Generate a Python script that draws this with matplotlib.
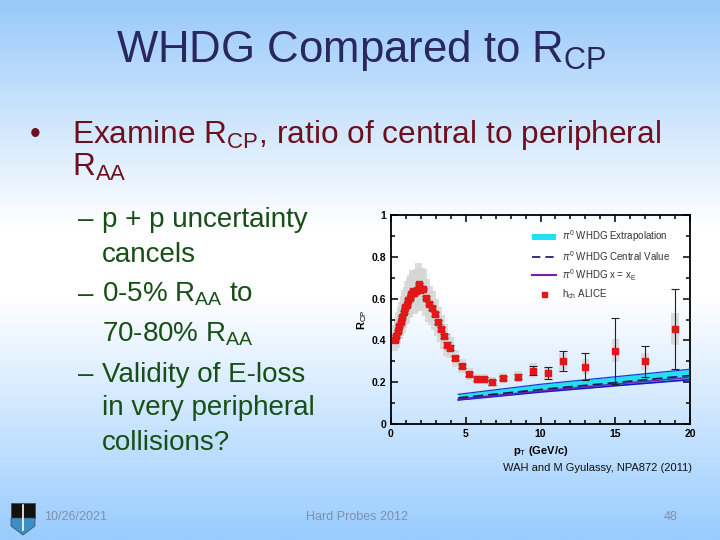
import numpy as np
import matplotlib
matplotlib.use('Agg')
import matplotlib.pyplot as plt
from matplotlib.patches import Rectangle, Polygon, Patch
from matplotlib.lines import Line2D
from matplotlib.colors import LinearSegmentedColormap

plt.rcParams['font.family'] = ['Liberation Sans', 'DejaVu Sans']
plt.rcParams['mathtext.fontset'] = 'custom'
plt.rcParams['mathtext.rm'] = 'Liberation Sans'
plt.rcParams['mathtext.it'] = 'Liberation Sans:italic'
plt.rcParams['mathtext.bf'] = 'Liberation Sans:bold'

# Datos ALICE h_ch R_CP
pt = [0.25, 0.35, 0.45, 0.55, 0.65, 0.75, 0.85, 0.95, 1.05, 1.15, 1.25, 1.35,
      1.45, 1.55, 1.65, 1.75, 1.85, 1.95, 2.05, 2.15, 2.35, 2.55, 2.75, 2.95,
      3.15, 3.35, 3.55, 3.75, 3.95, 4.3, 4.75, 5.25, 5.75, 6.25, 6.75, 7.5,
      8.5, 9.5, 10.5, 11.5, 13.0, 15.0, 17.0, 19.0]
rcp = [0.40, 0.42, 0.445, 0.47, 0.49, 0.51, 0.535, 0.56, 0.57, 0.595, 0.605, 0.62,
       0.635, 0.625, 0.635, 0.64, 0.67, 0.64, 0.645, 0.645, 0.605, 0.575, 0.555, 0.525,
       0.49, 0.455, 0.42, 0.38, 0.365, 0.315, 0.278, 0.24, 0.215, 0.215, 0.20, 0.22,
       0.227, 0.255, 0.245, 0.30, 0.274, 0.35, 0.30, 0.455]
stat = [0.005, 0.005, 0.005, 0.005, 0.005, 0.005, 0.005, 0.005, 0.005, 0.005, 0.005, 0.005,
        0.005, 0.005, 0.005, 0.005, 0.006, 0.006, 0.006, 0.006, 0.008, 0.008, 0.008, 0.009,
        0.01, 0.01, 0.01, 0.01, 0.012, 0.01, 0.01, 0.01, 0.01, 0.01, 0.012, 0.01,
        0.013, 0.022, 0.03, 0.047, 0.065, 0.157, 0.075, 0.19]
sys = [0.05, 0.055, 0.06, 0.065, 0.07, 0.075, 0.078, 0.08, 0.085, 0.09, 0.092, 0.095,
       0.1, 0.1, 0.1, 0.1, 0.1, 0.1, 0.1, 0.095, 0.09, 0.085, 0.08, 0.075,
       0.07, 0.065, 0.06, 0.055, 0.05, 0.04, 0.035, 0.03, 0.025, 0.025, 0.025, 0.025,
       0.027, 0.035, 0.03, 0.04, 0.035, 0.055, 0.04, 0.075]

# Banda teorica WHDG pi0
pt_th = [4.5, 10.0, 15.0, 20.0]
band_lo = [0.115, 0.153, 0.183, 0.212]
band_hi = [0.142, 0.190, 0.226, 0.262]
central = [0.125, 0.165, 0.198, 0.232]
x_eq_xe = [0.119, 0.158, 0.191, 0.223]

fig = plt.figure(figsize=(7.2, 5.4), dpi=100)

# Fondo degradado de la diapositiva
bg = fig.add_axes([0, 0, 1, 1], zorder=-10)
cmap = LinearSegmentedColormap.from_list('slide', [
    (0.0, (0.60, 0.79, 0.98)),
    (0.42, (1.0, 1.0, 1.0)),
    (0.55, (1.0, 1.0, 1.0)),
    (1.0, (0.60, 0.80, 1.0))])
bg.imshow(np.linspace(0, 1, 256).reshape(-1, 1), aspect='auto', cmap=cmap,
          extent=[0, 1, 0, 1], origin='upper')
bg.set_xlim(0, 1)
bg.set_ylim(0, 1)
bg.axis('off')

W, H = 720.0, 540.0

def fx(px):
    return px / W

def fy(py):
    return 1 - py / H

# Titulo
fig.text(fx(361), fy(62), r'WHDG Compared to R$_{\rm CP}$', fontsize=31.5,
         color='#28285e', ha='center', va='baseline')

# Texto de viñetas
red = '#6e0f1e'
green = '#174f17'
fig.text(fx(30), fy(143), u'\u2022', fontsize=22, color=red, va='baseline')
fig.text(fx(72), fy(143), r'Examine R$_{\rm CP}$, ratio of central to peripheral',
         fontsize=22.8, color=red, va='baseline')
fig.text(fx(72), fy(176), r'R$_{\rm AA}$', fontsize=22.8, color=red, va='baseline')

sub = [(227, True, 'p + p uncertainty'),
       (262, False, 'cancels'),
       (302, True, r'0-5% R$_{\rm AA}$ to'),
       (342, False, r'70-80% R$_{\rm AA}$'),
       (382, True, 'Validity of E-loss'),
       (415, False, 'in very peripheral'),
       (450, False, 'collisions?')]
for yb, dash, txt in sub:
    if dash:
        fig.text(fx(78), fy(yb), u'\u2013', fontsize=20, color=green, va='baseline')
    fig.text(fx(102), fy(yb), txt, fontsize=20, color=green, va='baseline')

# Pie de pagina
foot = '#8090a8'
fig.text(fx(44), fy(517), '10/26/2021', fontsize=9, color=foot, va='center')
fig.text(fx(357), fy(517), 'Hard Probes 2012', fontsize=9, color=foot, va='center', ha='center')
fig.text(fx(671), fy(517), '48', fontsize=9, color=foot, va='center', ha='center')

# Escudo (logo)
shield_top = Polygon([(fx(11), fy(503)), (fx(35), fy(503)), (fx(35), fy(518)), (fx(11), fy(518))],
                     closed=True, transform=fig.transFigure, facecolor='#111111',
                     edgecolor='#444444', lw=0.5)
shield_bot = Polygon([(fx(11), fy(518)), (fx(35), fy(518)), (fx(35), fy(526)),
                      (fx(23), fy(535)), (fx(11), fy(526))],
                     closed=True, transform=fig.transFigure, facecolor='#3b8fc8',
                     edgecolor='#444444', lw=0.5)
fig.patches.extend([shield_top, shield_bot])
fig.lines.append(Line2D([fx(23), fx(23)], [fy(505), fy(530)], transform=fig.transFigure,
                        color='white', lw=1.2))

# Grafico R_CP
ax = fig.add_axes([fx(391), fy(424), (690 - 391) / W, (424 - 215) / H])
ax.patch.set_alpha(0)

for x, y, s in zip(pt, rcp, sys):
    w = 0.5
    ax.add_patch(Rectangle((x - w / 2, y - s), w, 2 * s, facecolor='#d6d6d6',
                           edgecolor='none', alpha=0.85, zorder=1))

ax.fill_between(pt_th, band_lo, band_hi, color='#22e0f0', zorder=2, lw=0)
ax.plot(pt_th, band_lo, color='#1515d0', lw=1.2, zorder=3)
ax.plot(pt_th, band_hi, color='#1a3adf', lw=0.9, zorder=3)
ax.plot(pt_th, x_eq_xe, color='#7a1fa8', lw=1.1, zorder=3)
ax.plot(pt_th, central, color='#101060', lw=1.2, ls=(0, (6, 3)), zorder=4)

ax.errorbar(pt, rcp, yerr=stat, fmt='s', color='#e01818', ms=3.8, mec='#e01818',
            ecolor='#222222', elinewidth=0.8, capsize=3, capthick=0.8, zorder=5)

ax.set_xlim(0, 20)
ax.set_ylim(0, 1)
ax.set_xticks([0, 5, 10, 15, 20])
ax.set_xticks(np.arange(0, 21, 1), minor=True)
ax.set_yticks([0, 0.2, 0.4, 0.6, 0.8, 1])
ax.set_yticklabels(['0', '0.2', '0.4', '0.6', '0.8', '1'])
ax.set_yticks(np.arange(0, 1.01, 0.1), minor=True)
ax.tick_params(which='both', direction='in', top=True, right=True, width=1.1,
               labelsize=7.5, colors='black')
ax.tick_params(which='major', length=5)
ax.tick_params(which='minor', length=3)
for lab in ax.get_xticklabels() + ax.get_yticklabels():
    lab.set_fontweight('bold')
for sp in ax.spines.values():
    sp.set_linewidth(1.3)

ax.set_xlabel(r'p$_{\rm T}$ (GeV/c)', fontsize=8, fontweight='bold', labelpad=4)
ax.set_ylabel(r'R$_{\rm CP}$', fontsize=8, fontweight='bold', labelpad=2)

handles = [Patch(facecolor='#22e0f0', edgecolor='none'),
           Line2D([], [], color='#101060', lw=1.2, ls=(0, (5, 3))),
           Line2D([], [], color='#7a1fa8', lw=1.5),
           Line2D([], [], color='#e01818', marker='s', ms=3.6, ls='none')]
labels = [r'$\pi^0$ WHDG Extrapolation', r'$\pi^0$ WHDG Central Value',
          r'$\pi^0$ WHDG x = x$_{\rm E}$', r'h$_{\rm ch}$ ALICE']
leg = ax.legend(handles, labels, loc='upper left', bbox_to_anchor=(0.47, 0.935),
                frameon=False, fontsize=7, handlelength=2.5, handletextpad=0.6,
                labelspacing=0.45, borderpad=0, borderaxespad=0)
for t in leg.get_texts():
    t.set_color('#333333')

fig.text(fx(692), fy(468), 'WAH and M Gyulassy, NPA872 (2011)', fontsize=8,
         color='#111111', ha='right', va='center')

plt.savefig('out.png', dpi=100)
